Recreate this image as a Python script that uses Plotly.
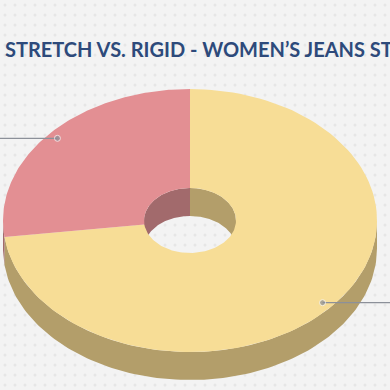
import numpy as np
import plotly.graph_objects as go

# ---- data ----
labels = ["Stretch", "Rigid"]
values = [73, 27]
top_colors = ["#F7DD96", "#E38F93"]
side_colors = ["#B39E6A", "#A26A6C"]
title_text = "STRETCH VS. RIGID - WOMEN’S JEANS STYLES"

# ---- geometry (pixels) ----
W = H = 390
cx, cy = 190, 220.5
rx, ry = 187, 131.5
hrx, hry = 46, 32.5
depth = 28
start = 90.0
bg = "#F3F3F3"


def arc(t0, t1, a, b, dy=0, n=120):
    t = np.radians(np.linspace(t0, t1, n))
    return cx + a * np.cos(t), cy - b * np.sin(t) + dy


def intersect(a, b, lo, hi):
    out = []
    for k in range(-3, 4):
        s0, s1 = a + 360 * k, b + 360 * k
        l, h = max(s0, lo), min(s1, hi)
        if h > l:
            out.append((l - 360 * k, h - 360 * k))
    return out


total = float(sum(values))
cum = np.concatenate([[0], np.cumsum(values)])
slices = []
for i in range(len(values)):
    a0 = start - cum[i] / total * 360
    a1 = start - cum[i + 1] / total * 360
    slices.append((a1, a0))

fig = go.Figure()

# background dots
gx, gy = np.meshgrid(np.arange(5, W, 10), np.arange(5, H, 10))
fig.add_trace(go.Scatter(x=gx.ravel(), y=gy.ravel(), mode="markers",
                         marker=dict(size=3, color="rgba(160,160,160,0.16)"),
                         hoverinfo="skip"))

# outer side wall (front half)
for (a, b), col in zip(slices, side_colors):
    for l, h in intersect(a, b, -180, 0):
        x1, y1 = arc(l, h, rx, ry)
        x2, y2 = arc(h, l, rx, ry, depth)
        fig.add_trace(go.Scatter(x=np.concatenate([x1, x2]), y=np.concatenate([y1, y2]),
                                 fill="toself", fillcolor=col, mode="lines",
                                 line=dict(width=0, color=col), hoverinfo="skip"))

# inner hole wall (back half)
for (a, b), col in zip(slices, side_colors):
    for l, h in intersect(a, b, 0, 180):
        x1, y1 = arc(l, h, hrx, hry)
        x2, y2 = arc(h, l, hrx, hry, depth)
        fig.add_trace(go.Scatter(x=np.concatenate([x1, x2]), y=np.concatenate([y1, y2]),
                                 fill="toself", fillcolor=col, mode="lines",
                                 line=dict(width=0, color=col), hoverinfo="skip"))

# top surfaces
for (a, b), col, lab, v in zip(slices, top_colors, labels, values):
    x1, y1 = arc(a, b, rx, ry)
    x2, y2 = arc(b, a, hrx, hry)
    fig.add_trace(go.Scatter(x=np.concatenate([x1, x2]), y=np.concatenate([y1, y2]),
                             fill="toself", fillcolor=col, mode="lines",
                             line=dict(width=0, color=col), name=lab,
                             hoverinfo="text", text=f"{lab}: {v}%"))

# label connector lines
for (a, b) in slices:
    m = np.radians((a + b) / 2)
    px = cx + 0.945 * rx * np.cos(m)
    py = cy - 0.945 * ry * np.sin(m)
    ex = 0 if np.cos(m) < 0 else W
    fig.add_trace(go.Scatter(x=[ex, px], y=[py, py], mode="lines+markers",
                             line=dict(color="#8C9099", width=1.3),
                             marker=dict(size=[0, 6], color="#8C9099"),
                             hoverinfo="skip"))

fig.add_annotation(x=3, y=49, xref="x", yref="y", text=title_text, showarrow=False,
                   xanchor="left", yanchor="middle",
                   font=dict(family="Lato", size=20, color="#2D4A7B", weight="bold"))

fig.update_layout(width=W, height=H, margin=dict(l=0, r=0, t=0, b=0),
                  paper_bgcolor=bg, plot_bgcolor=bg, showlegend=False,
                  xaxis=dict(range=[0, W], visible=False, fixedrange=True),
                  yaxis=dict(range=[H, 0], visible=False, fixedrange=True))

fig.write_html("out.html", config={"displayModeBar": False},
               post_script="document.body.style.margin='0';document.body.style.overflow='hidden';")
